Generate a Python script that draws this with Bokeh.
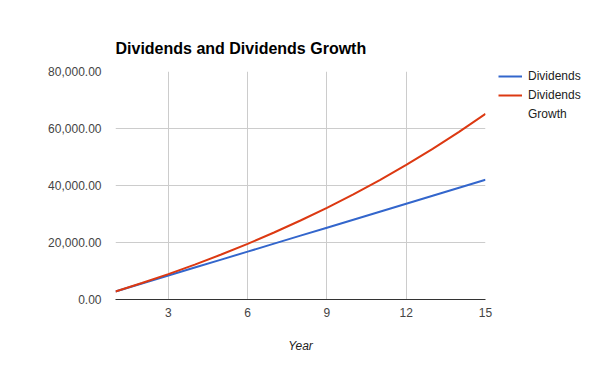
from bokeh.plotting import figure
from bokeh.models import NumeralTickFormatter, FixedTicker, Legend, LegendItem, Range1d
from bokeh.embed import file_html
from bokeh.resources import INLINE

years = list(range(1, 16))
dividends = [2800, 5600, 8400, 11200, 14000, 16800, 19600, 22400, 25200, 28000,
             30800, 33600, 36400, 39200, 42000]
dividends_growth = [2800, 5768, 8914, 12249, 15784, 19531, 23503, 27713, 32176, 36906,
                    41921, 47236, 52870, 58842, 65173]
y_ticks = [0, 20000, 40000, 60000, 80000]
x_ticks = [3, 6, 9, 12, 15]

FONT = "Liberation Sans"

p = figure(width=600, height=371, frame_width=370, frame_height=228,
           output_backend="svg", toolbar_location=None,
           x_range=Range1d(1, 15), y_range=Range1d(0, 80000),
           title="Dividends and Dividends Growth",
           min_border_left=115, min_border_right=115, min_border_top=71, min_border_bottom=72)
p.outline_line_color = None
p.background_fill_color = "white"
p.border_fill_color = "white"

p.title.text_font = FONT
p.title.text_font_size = "16px"
p.title.text_font_style = "bold"
p.title.text_color = "#000000"
p.title.align = "left"
p.title.standoff = 29

r1 = p.line(years, dividends, line_color="#3366cc", line_width=2)
r2 = p.line(years, dividends_growth, line_color="#dc3912", line_width=2)
r_blank = p.line([], [], line_alpha=0)

p.yaxis.ticker = FixedTicker(ticks=y_ticks)
p.yaxis.formatter = NumeralTickFormatter(format="0,0.00")
p.xaxis.ticker = FixedTicker(ticks=x_ticks)
for ax in (p.xaxis[0], p.yaxis[0]):
    ax.major_tick_line_color = None
    ax.minor_tick_line_color = None
    ax.major_label_text_font = FONT
    ax.major_label_text_font_size = "12px"
    ax.major_label_text_color = "#444444"
p.yaxis.axis_line_color = None
p.yaxis.major_label_standoff = 8
p.xaxis.axis_line_color = "#333333"
p.xaxis.axis_line_width = 1
p.xaxis.major_label_standoff = 2
p.xaxis.axis_label = "Year"
p.xaxis.axis_label_text_font = FONT
p.xaxis.axis_label_text_font_size = "12px"
p.xaxis.axis_label_text_font_style = "italic"
p.xaxis.axis_label_text_color = "#222222"
p.xaxis.axis_label_standoff = 19

p.xgrid.ticker = FixedTicker(ticks=x_ticks)
p.ygrid.ticker = FixedTicker(ticks=y_ticks)
p.grid.grid_line_color = "#cccccc"
p.grid.grid_line_width = 1

legend = Legend(items=[LegendItem(label="Dividends", renderers=[r1]),
                       LegendItem(label="Dividends", renderers=[r2]),
                       LegendItem(label="Growth", renderers=[r_blank])],
                location=(13, 178))
legend.label_text_font = FONT
legend.label_text_font_size = "12px"
legend.label_text_color = "#222222"
legend.glyph_width = 24
legend.glyph_height = 14
legend.label_standoff = 6
legend.spacing = 5
legend.padding = 0
legend.margin = 0
legend.border_line_color = None
legend.background_fill_alpha = 0
p.add_layout(legend, "right")

open("out.html", "w").write(file_html(p, INLINE))
